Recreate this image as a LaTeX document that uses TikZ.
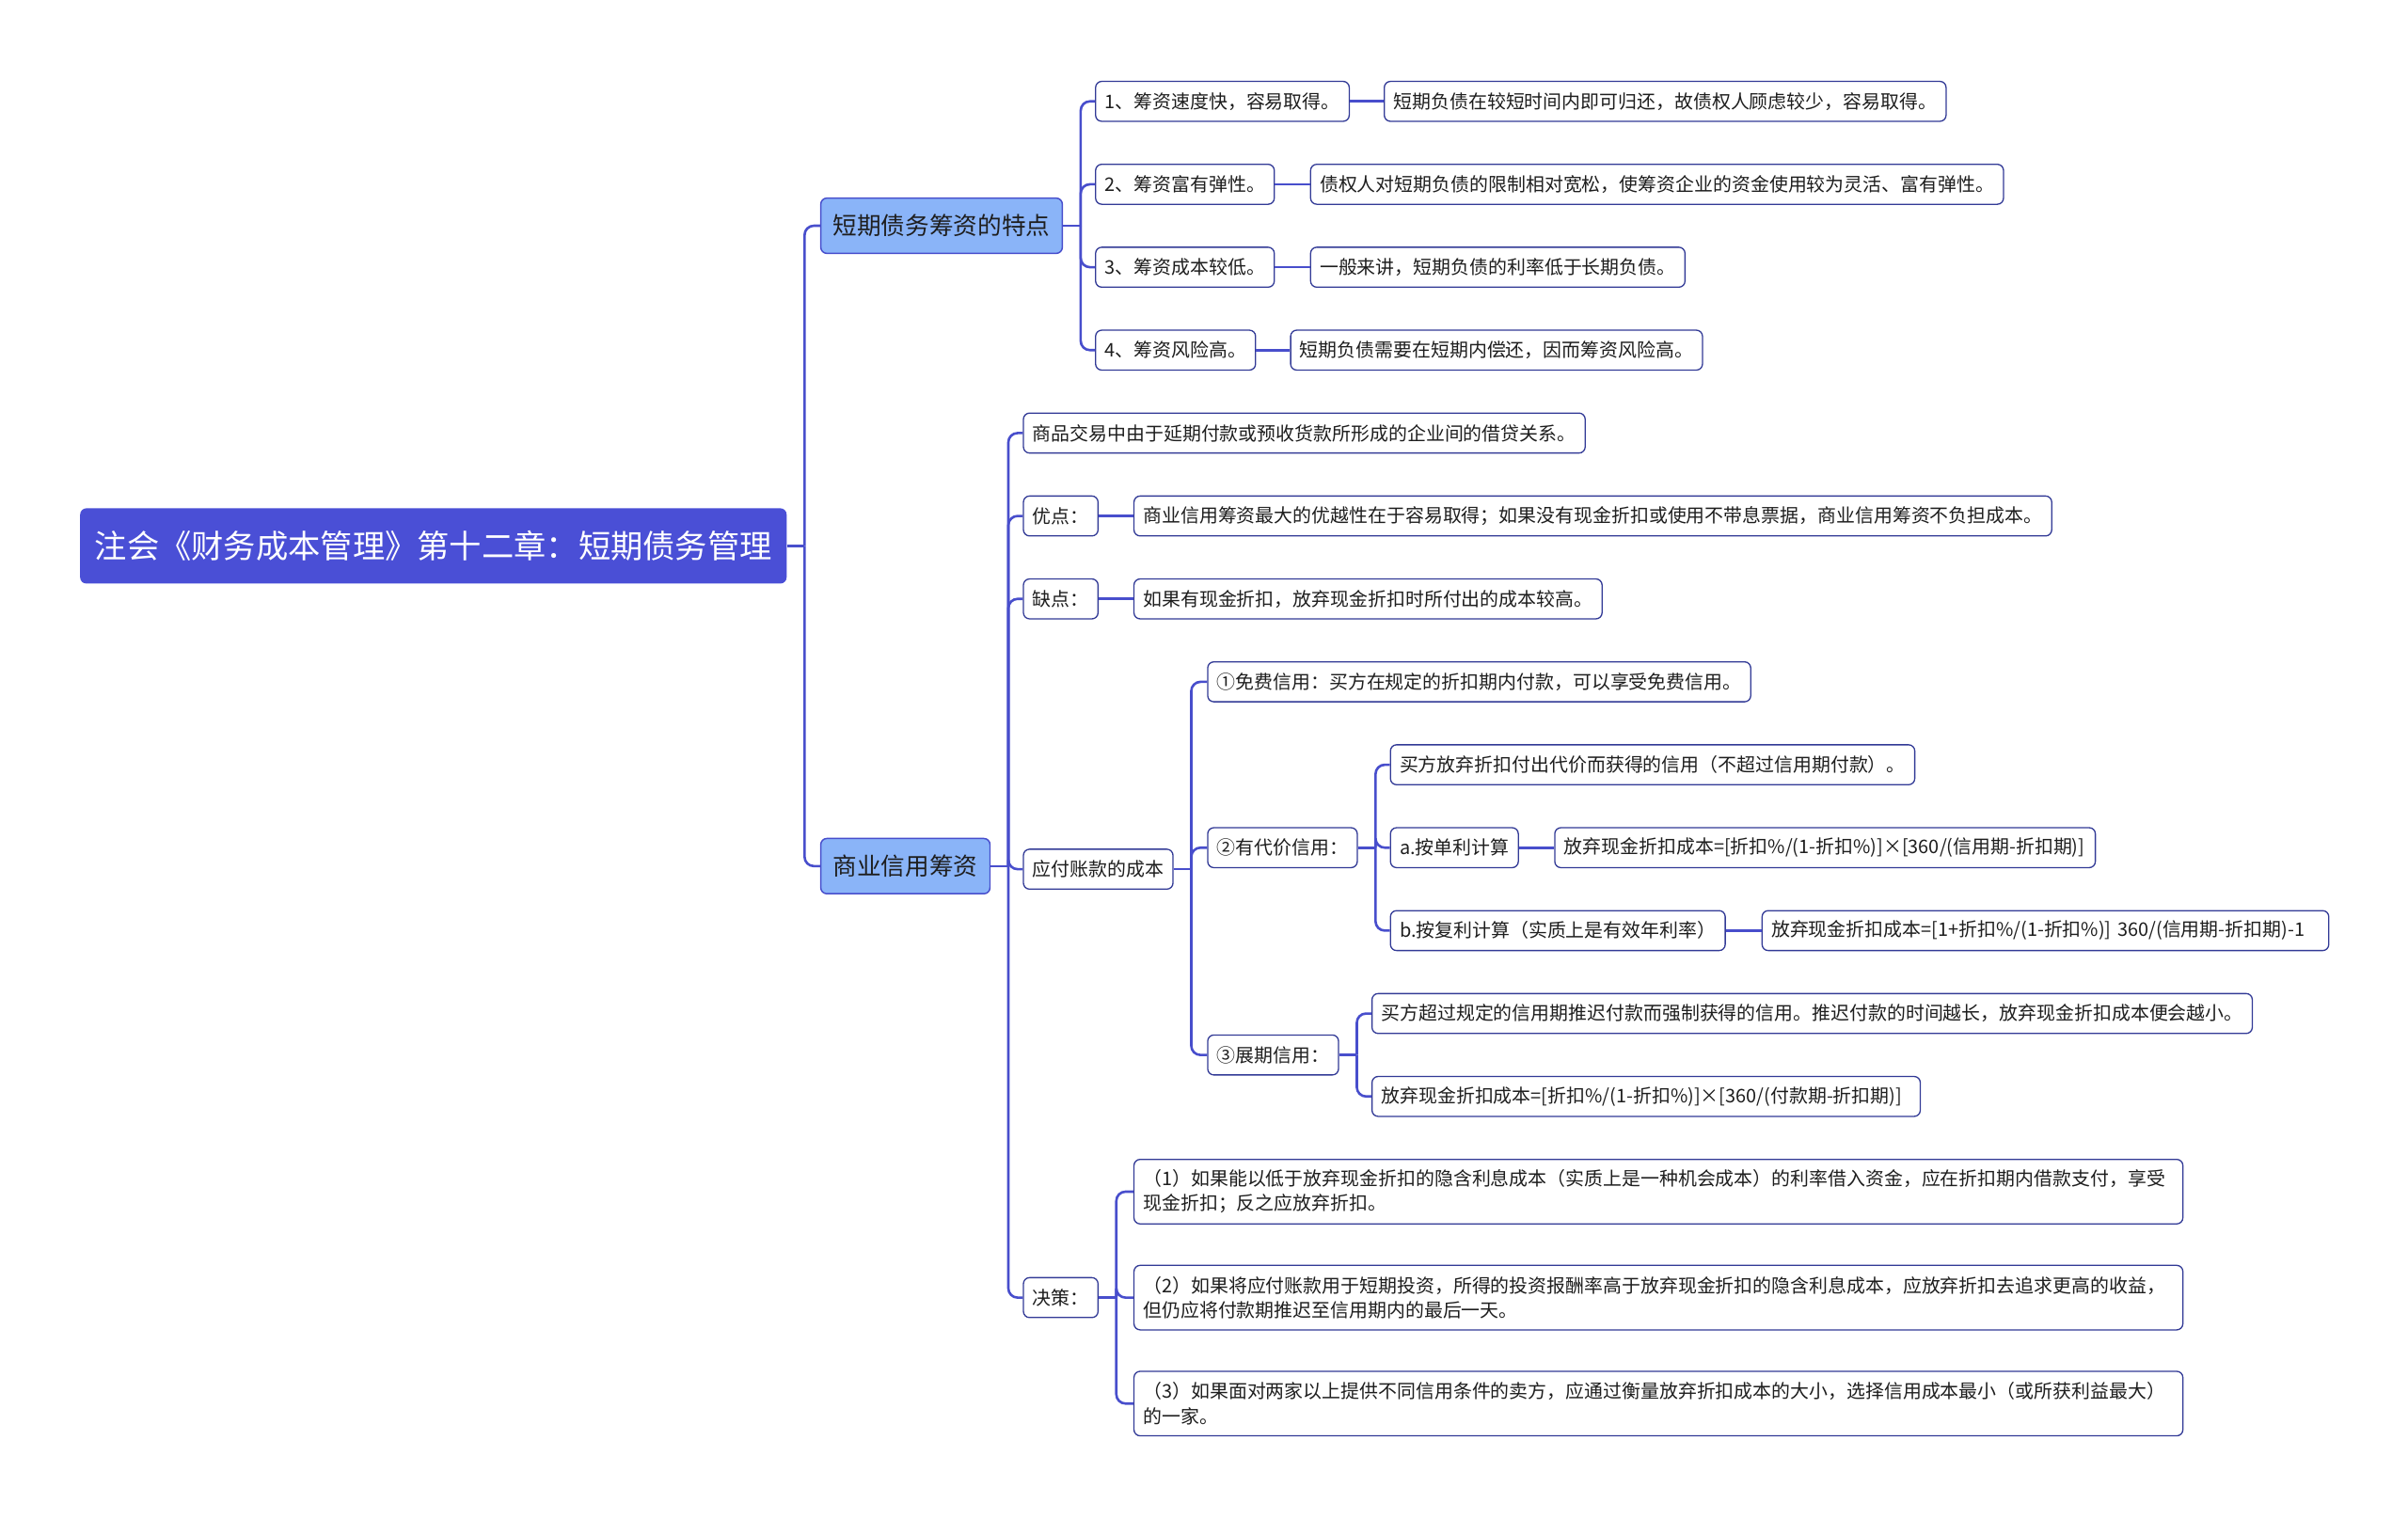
\documentclass[tikz,border=0pt]{standalone}
\usepackage{fontspec}
\usepackage{xcolor}
\usepackage{tikz}
\usetikzlibrary{positioning}
\newfontfamily\cjk{Noto Sans CJK SC}
\definecolor{rootblue}{RGB}{74, 79, 214}
\definecolor{topicblue}{RGB}{138, 180, 248}
\definecolor{linkblue}{RGB}{72, 78, 204}
\definecolor{leafline}{RGB}{50, 58, 150}
\definecolor{leaftext}{RGB}{30, 30, 30}

\begin{document}
\begin{tikzpicture}[
    x=1pt, y=-1pt,
    rootbox/.style={rectangle, rounded corners=4pt, fill=rootblue, text=white, minimum height=49pt, inner xsep=9.5pt, inner ysep=0pt, anchor=west, font=\cjk\fontsize{21}{25}\selectfont},
    topic/.style={rectangle, rounded corners=4pt, draw=linkblue, line width=0.9pt, fill=topicblue, text=leaftext, minimum height=36pt, inner xsep=8pt, inner ysep=0pt, anchor=west, font=\cjk\fontsize{15.7}{19}\selectfont},
    leaf/.style={rectangle, rounded corners=4pt, draw=leafline, line width=0.8pt, fill=white, text=leaftext, minimum height=26pt, inner xsep=6pt, inner ysep=0pt, anchor=west, font=\cjk\fontsize{12.2}{16}\selectfont},
    formula/.style={leaf, text width=#1, align=left},
    note/.style={leaf, text width=671pt, align=left, minimum height=42pt},
    link/.style={draw=linkblue, line width=1.6pt, rounded corners=6pt},
    branchshift/.style={xshift=11.5pt}
]
\useasboundingbox (0,0) rectangle (1568,989);

% Root and main topics
\node[rootbox] (root) at (52,355.5) {注会《财务成本管理》第十二章：短期债务管理};
\node[topic] (feat) at (534,147) {短期债务筹资的特点};
\node[topic] (credit) at (534,564) {商业信用筹资};

% Features of short-term debt
\node[leaf] (f1) at (713,66) {1、筹资速度快，容易取得。};
\node[leaf] (f1d) at (901,66) {短期负债在较短时间内即可归还，故债权人顾虑较少，容易取得。};
\node[leaf] (f2) at (713,120) {2、筹资富有弹性。};
\node[leaf] (f2d) at (853,120) {债权人对短期负债的限制相对宽松，使筹资企业的资金使用较为灵活、富有弹性。};
\node[leaf] (f3) at (713,174) {3、筹资成本较低。};
\node[leaf] (f3d) at (853,174) {一般来讲，短期负债的利率低于长期负债。};
\node[leaf] (f4) at (713,228) {4、筹资风险高。};
\node[leaf] (f4d) at (840,228) {短期负债需要在短期内偿还，因而筹资风险高。};

% Trade credit
\node[leaf] (c1) at (666,282) {商品交易中由于延期付款或预收货款所形成的企业间的借贷关系。};
\node[leaf] (c2) at (666,336) {优点：};
\node[leaf] (c2d) at (738,336) {商业信用筹资最大的优越性在于容易取得；如果没有现金折扣或使用不带息票据，商业信用筹资不负担成本。};
\node[leaf] (c3) at (666,390) {缺点：};
\node[leaf] (c3d) at (738,390) {如果有现金折扣，放弃现金折扣时所付出的成本较高。};
\node[leaf] (c4) at (666,566) {应付账款的成本};
\node[leaf] (c5) at (666,845) {决策：};

% Cost of payables
\node[leaf] (p1) at (786,444) {①免费信用：买方在规定的折扣期内付款，可以享受免费信用。};
\node[leaf] (p2) at (786,552) {②有代价信用：};
\node[leaf] (p3) at (786,687) {③展期信用：};
\node[leaf] (q1) at (905,498) {买方放弃折扣付出代价而获得的信用（不超过信用期付款）。};
\node[leaf] (q2) at (905,552) {a.按单利计算};
\node[formula=340pt] (q2d) at (1012,552) {放弃现金折扣成本=[折扣\%/(1-折扣\%)]×[360/(信用期-折扣期)]};
\node[leaf] (q3) at (905,606) {b.按复利计算（实质上是有效年利率）};
\node[formula=357pt] (q3d) at (1147,606) {放弃现金折扣成本=[1+折扣\%/(1-折扣\%)] 360/(信用期-折扣期)-1};
\node[leaf] (r1) at (893,660) {买方超过规定的信用期推迟付款而强制获得的信用。推迟付款的时间越长，放弃现金折扣成本便会越小。};
\node[formula=345pt] (r2) at (893,714) {放弃现金折扣成本=[折扣\%/(1-折扣\%)]×[360/(付款期-折扣期)]};

% Decisions
\node[note] (d1) at (738,776) {（1）如果能以低于放弃现金折扣的隐含利息成本（实质上是一种机会成本）的利率借入资金，应在折扣期内借款支付，享受\\现金折扣；反之应放弃折扣。};
\node[note] (d2) at (738,845) {（2）如果将应付账款用于短期投资，所得的投资报酬率高于放弃现金折扣的隐含利息成本，应放弃折扣去追求更高的收益，\\但仍应将付款期推迟至信用期内的最后一天。};
\node[note] (d3) at (738,914) {（3）如果面对两家以上提供不同信用条件的卖方，应通过衡量放弃折扣成本的大小，选择信用成本最小（或所获利益最大）\\的一家。};

% Brackets
\foreach \p/\kids in {root/{feat,credit}, feat/{f1,f2,f3,f4}, credit/{c1,c2,c3,c4,c5}, c4/{p1,p2,p3}, p2/{q1,q2,q3}, p3/{r1,r2}, c5/{d1,d2,d3}} {
    \coordinate (\p J) at ([branchshift]\p.east);
    \draw[link] (\p.east) -- (\p J);
    \foreach \k in \kids {
        \draw[link] (\p J) |- (\k.west);
    }
}

% Side notes
\foreach \a/\b in {f1/f1d, f2/f2d, f3/f3d, f4/f4d, c2/c2d, c3/c3d, q2/q2d, q3/q3d} {
    \draw[link] (\a.east) -- (\b.west);
}

\end{tikzpicture}
\end{document}
